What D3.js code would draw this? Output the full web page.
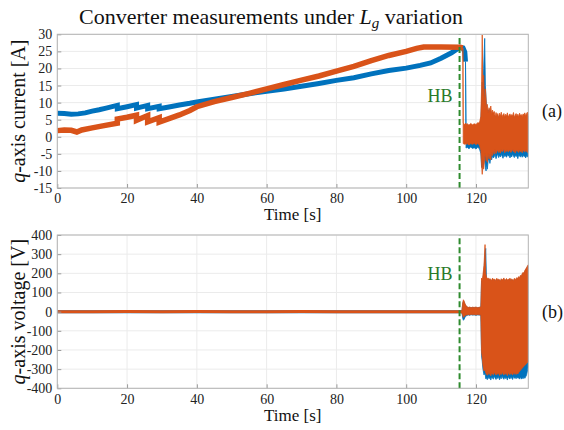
<!DOCTYPE html>
<html>
<head>
<meta charset="utf-8">
<script src="https://cdn.jsdelivr.net/npm/d3@7"></script>
<style>
  html, body { margin: 0; padding: 0; background: #fff; }
  svg { display: block; }
  svg text { font-family: 'Liberation Serif', 'Times New Roman', serif; }
</style>
</head>
<body>
<svg id="chart" width="564" height="430"></svg>
<script>
// ---- data -------------------------------------------------------------
const xTicks = [0, 20, 40, 60, 80, 100, 120];
const iqTicks = [-15, -10, -5, 0, 5, 10, 15, 20, 25, 30];
const vqTicks = [-400, -300, -200, -100, 0, 100, 200, 300, 400];
const hbTime = 115.3;

// q-axis current, smooth part before the bifurcation (time, value)
const iqBlueTime = [0, 2, 4, 6, 8, 10, 12, 14, 16, 17.2, 17.2, 20, 22.7, 22.7, 25.9, 25.9, 29.2, 29.2, 32, 35, 38, 40, 45, 50, 55, 60, 65, 70, 75, 80, 85, 90, 95, 100, 104, 107, 110, 113, 115.4, 116.3, 116.8, 117.0];
const iqBlue     = [6.9, 6.8, 6.6, 6.7, 7.0, 7.5, 7.9, 8.4, 8.9, 9.2, 8.2, 8.8, 9.4, 8.4, 9.2, 8.2, 8.9, 8.2, 8.7, 9.3, 9.8, 10.2, 11.0, 11.8, 12.6, 13.3, 14.0, 14.8, 15.6, 16.5, 17.3, 18.4, 19.4, 20.1, 20.9, 21.6, 23.0, 24.6, 26.2, 26.0, 24.8, 22.0];
const iqOrangeTime = [0, 2, 4, 5.6, 7, 10, 13, 17.2, 17.2, 20, 22.7, 22.7, 25.9, 25.9, 29.2, 29.2, 32, 35, 38, 40, 45, 50, 55, 60, 65, 70, 75, 80, 85, 90, 95, 100, 103, 105, 110, 115.4, 116.2];
const iqOrange     = [1.8, 2.0, 1.9, 1.4, 2.0, 2.6, 3.2, 4.0, 5.2, 5.7, 6.3, 4.8, 6.2, 4.4, 5.6, 4.3, 5.3, 6.4, 7.7, 8.8, 10.3, 11.5, 12.7, 14.0, 15.3, 16.6, 17.8, 19.2, 20.6, 22.3, 23.8, 25.0, 25.9, 26.3, 26.3, 26.2, 26.0];

// q-axis current after the bifurcation: oscillation envelopes
const iqOscTime = [116.25, 116.35, 116.8, 117.0, 117.15, 117.5, 118, 118.5, 119, 119.5, 120, 120.5, 121, 121.4, 121.6, 121.8, 122.0, 122.2, 122.5, 122.7, 122.9,
  123.0, 123.25, 123.5, 123.75, 124.0, 124.25, 124.5, 124.75, 125.0, 125.25, 125.5, 125.75, 126.0, 126.25, 126.5, 126.75, 127.0, 127.25, 127.5, 127.75,
  128.0, 128.25, 128.5, 128.75, 129.0, 129.25, 129.5, 129.75, 130.0, 130.25, 130.5, 130.75, 131.0, 131.25, 131.5, 131.75, 132.0, 132.25, 132.5, 132.75,
  133.0, 133.25, 133.5, 133.75, 134.0, 134.25, 134.5, 134.75, 135.0];
const iqOrangeHi = [26, 4, 3.5, 4, 3.6, 3.8, 3.4, 3.9, 3.5, 3.8, 3.6, 4.1, 4.0, 6, 14, 29.8, 12, 18, 9, 14, 11,
  8, 9.5, 7, 8.5, 7.5, 9, 6.5, 7.8, 6.9, 7.4, 5.8, 7.1, 6.2, 6.8, 5.6, 6.9, 6.1, 7.2, 5.9, 6.4, 6.8, 5.7, 6.6, 6.0, 7.0, 5.8, 6.3, 6.7, 5.9, 6.5,
  6.1, 7.1, 5.6, 6.4, 6.8, 6.0, 6.6, 5.8, 6.9, 6.2, 6.5, 5.9, 6.7, 6.3, 7.0, 6.1, 6.8, 7.2, 6.6];
const iqOrangeLo = [25.2, -2, -2.2, -1.8, -2.3, -2, -2.4, -2, -2.2, -1.9, -2.3, -2, -2.4, -4, -8, -11, -7, -9.5, -6, -5, -7,
  -6, -7.5, -5, -6.5, -5.2, -6.8, -4.6, -5.5, -4.2, -5.1, -3.8, -4.9, -4.3, -3.9, -4.6, -4.0, -4.8, -3.7, -4.4, -4.1, -3.6, -4.7, -4.0, -4.3, -3.8, -4.5,
  -4.1, -3.9, -4.6, -4.2, -3.7, -4.4, -4.0, -4.8, -3.9, -4.3, -4.1, -4.6, -3.8, -4.4, -4.0, -4.7, -3.9, -4.2, -4.5, -3.8, -4.3, -4.6, -4.1];
const iqBlueHi = [null, null, null, 22, 3.2, 3.3, 3.1, 3.4, 3.0, 3.2, 3.1, 3.5, 3.6, 5, 10, 16, 12, 20, 28.8, 15, 11,
  9, 8, 7.5, 8, 6.5, 7.5, 6, 6.8, 5.9, 6.3, 5.5, 6.1, 5.7, 6.0, 5.4, 6.2, 5.6, 5.9, 5.3, 5.8, 6.0, 5.5, 5.9, 5.4, 6.1, 5.6, 5.8, 5.5, 6.0, 5.7,
  5.4, 6.2, 5.6, 5.9, 5.5, 5.8, 6.0, 5.4, 5.9, 5.6, 6.1, 5.5, 5.8, 5.7, 6.0, 5.6, 5.9, 6.3, 6.0];
const iqBlueLo = [null, null, null, 21, -3.3, -3.1, -3.5, -3.0, -3.4, -3.2, -3.6, -3.1, -3.5, -5, -9, -7, -9, -8, -6, -9, -10,
  -8, -9.5, -7, -6.5, -7.8, -6, -6.8, -5.5, -6.2, -5.8, -5.2, -6.4, -5.6, -5.0, -6.1, -5.4, -5.9, -5.1, -5.7, -6.3, -5.2, -5.8, -5.5, -6.0, -5.1, -5.7,
  -5.3, -6.2, -5.4, -5.9, -5.0, -5.6, -6.1, -5.3, -5.8, -5.5, -6.4, -5.2, -5.7, -5.9, -5.3, -6.0, -5.4, -5.8, -5.6, -6.2, -5.5, -5.9, -5.7];

// q-axis voltage before the bifurcation
const vqTime   = [0, 10, 20, 30, 40, 50, 60, 70, 80, 90, 100, 110, 116];
const vqBlue   = [-1, -1, 0, -1, 0, 0, -1, 0, 0, 0, 0, 0, 0];
const vqOrange = [-1, -1, 1, 0, 1, 0, 0, 1, 0, 0, 0, 0, 0];

// q-axis voltage after the bifurcation: oscillation envelopes
const vqOscTime = [116.0, 116.2, 116.4, 116.6, 116.9, 117.2, 117.5, 117.8, 118.2, 118.6, 119, 119.5, 120, 120.5, 121, 121.4, 121.6, 121.8, 122.0, 122.3, 122.6, 122.8,
  123.0, 123.25, 123.5, 123.75, 124.0, 124.25, 124.5, 124.75, 125.0, 125.25, 125.5, 125.75, 126.0, 126.25, 126.5, 126.75, 127.0, 127.25, 127.5, 127.75,
  128.0, 128.25, 128.5, 128.75, 129.0, 129.25, 129.5, 129.75, 130.0, 130.25, 130.5, 130.75, 131.0, 131.25, 131.5, 131.75, 132.0, 132.25, 132.5, 132.75,
  133.0, 133.25, 133.5, 133.75, 134.0, 134.25, 134.5, 134.75, 135.0];
const vqOrangeHi = [8, 45, 62, 55, 40, 30, 25, 22, 24, 21, 23, 22, 24, 21, 23, 25, 175, 160, 190, 240, 350, 200,
  182, 170, 176, 165, 173, 168, 162, 175, 166, 171, 160, 169, 174, 163, 170, 167, 158, 172, 165, 169,
  176, 161, 168, 173, 164, 170, 166, 175, 160, 171, 167, 163, 174, 168, 172, 178, 170, 183, 176, 190,
  185, 198, 205, 200, 215, 222, 230, 238, 245];
const vqOrangeLo = [-8, -20, -30, -25, -20, -18, -17, -15, -17, -14, -16, -15, -17, -15, -16, -18, -210, -240, -280, -310, -300, -320,
  -325, -332, -318, -328, -322, -335, -320, -326, -330, -317, -324, -331, -321, -327, -319, -333, -323, -328, -316, -325,
  -330, -320, -327, -322, -334, -318, -326, -329, -321, -324, -331, -317, -326, -322, -328, -320, -325, -318, -312, -306,
  -300, -295, -290, -285, -280, -276, -270, -266, -262];
const vqBlueHi = [6, 40, 55, 50, 35, 28, 24, 20, 22, 20, 22, 21, 22, 20, 22, 23, 160, 150, 170, 220, 300, 330,
  175, 165, 170, 160, 168, 163, 158, 170, 161, 166, 156, 164, 169, 158, 165, 162, 154, 167, 160, 164,
  171, 156, 163, 168, 159, 165, 161, 170, 155, 166, 162, 158, 169, 163, 167, 173, 165, 178, 171, 185,
  180, 193, 200, 195, 210, 217, 225, 233, 240];
const vqBlueLo = [-7, -35, -45, -40, -28, -22, -19, -17, -19, -16, -18, -17, -19, -17, -18, -20, -230, -260, -300, -330, -320, -350,
  -345, -355, -338, -350, -342, -357, -340, -348, -352, -336, -346, -354, -341, -349, -339, -356, -344, -350, -335, -347,
  -353, -340, -349, -343, -357, -338, -348, -351, -342, -346, -354, -337, -348, -343, -350, -341, -347, -345, -352, -340,
  -352, -345, -350, -342, -348, -340, -330, -310, -285];

// ---- drawing ------------------------------------------------------------
const BLUE = "#0072bd", ORANGE = "#d95319", GREEN = "#2e8b2e";
const FONT = "'Liberation Serif', 'Times New Roman', serif";
const svg = d3.select("#chart");

const x = d3.scaleLinear().domain([0, 135]).range([57.3, 528.3]);

const panels = [
  { y: d3.scaleLinear().domain([-15, 30]).range([188, 34.3]), ticks: iqTicks,
    label: "current [A]", tag: "(a)", tagY: 117, hbY: 102, timeY: 220, tickY: 203 },
  { y: d3.scaleLinear().domain([-400, 400]).range([388.3, 235]), ticks: vqTicks,
    label: "voltage [V]", tag: "(b)", tagY: 318, hbY: 280, timeY: 421, tickY: 404 }
];

// title with italic L and subscript g
const title = svg.append("text").attr("x", 271).attr("y", 24)
  .attr("text-anchor", "middle").attr("font-family", FONT).attr("font-size", 22).attr("fill", "#111");
title.append("tspan").text("Converter measurements under ");
title.append("tspan").attr("font-style", "italic").text("L");
title.append("tspan").attr("font-style", "italic").attr("font-size", 15).attr("dy", 4).text("g");
title.append("tspan").attr("dy", -4).text(" variation");

panels.forEach((p, i) => {
  const g = svg.append("g").attr("font-family", FONT);
  const [y0, y1] = p.y.range();
  const clipId = "clip" + i;
  svg.append("clipPath").attr("id", clipId).append("rect")
    .attr("x", x.range()[0]).attr("y", y1).attr("width", x.range()[1] - x.range()[0]).attr("height", y0 - y1);

  // grid
  g.selectAll(".gx").data(xTicks).join("line")
    .attr("x1", d => x(d)).attr("x2", d => x(d)).attr("y1", y0).attr("y2", y1)
    .attr("stroke", "#ebebeb").attr("stroke-width", 1);
  g.selectAll(".gy").data(p.ticks).join("line")
    .attr("x1", x.range()[0]).attr("x2", x.range()[1]).attr("y1", d => p.y(d)).attr("y2", d => p.y(d))
    .attr("stroke", "#ebebeb").attr("stroke-width", 1);

  const plot = g.append("g").attr("clip-path", `url(#${clipId})`);
  const line = (ts, vs) => d3.line().x((d, k) => x(ts[k])).y(d => p.y(d))(vs);
  const band = (ts, hi, lo) => d3.area().defined((d, k) => hi[k] !== null)
    .x((d, k) => x(ts[k])).y0((d, k) => p.y(lo[k])).y1((d, k) => p.y(hi[k]))(ts);

  if (i === 0) {
    plot.append("path").attr("d", line(iqBlueTime, iqBlue)).attr("fill", "none")
      .attr("stroke", BLUE).attr("stroke-width", 5);
    plot.append("path").attr("d", band(iqOscTime, iqBlueHi, iqBlueLo)).attr("fill", BLUE)
      .attr("stroke", BLUE).attr("stroke-width", 0.8);
    plot.append("path").attr("d", line(iqOrangeTime, iqOrange)).attr("fill", "none")
      .attr("stroke", ORANGE).attr("stroke-width", 5.5);
    plot.append("path").attr("d", band(iqOscTime, iqOrangeHi, iqOrangeLo)).attr("fill", ORANGE)
      .attr("stroke", ORANGE).attr("stroke-width", 0.8);
  } else {
    plot.append("path").attr("d", line(vqTime, vqBlue)).attr("fill", "none")
      .attr("stroke", BLUE).attr("stroke-width", 3);
    plot.append("path").attr("d", band(vqOscTime, vqBlueHi, vqBlueLo)).attr("fill", BLUE)
      .attr("stroke", BLUE).attr("stroke-width", 0.8);
    plot.append("path").attr("d", line(vqTime, vqOrange)).attr("fill", "none")
      .attr("stroke", ORANGE).attr("stroke-width", 3);
    plot.append("path").attr("d", band(vqOscTime, vqOrangeHi, vqOrangeLo)).attr("fill", ORANGE)
      .attr("stroke", ORANGE).attr("stroke-width", 0.8);
  }

  // HB marker
  g.append("line").attr("x1", x(hbTime)).attr("x2", x(hbTime)).attr("y1", y0).attr("y2", y1)
    .attr("stroke", GREEN).attr("stroke-width", 2).attr("stroke-dasharray", "6,3");
  g.append("text").attr("x", x(hbTime) - 7).attr("y", p.hbY).attr("text-anchor", "end")
    .attr("font-family", FONT).attr("font-size", 18).attr("fill", "#2a7a2a").text("HB");

  // axes (inward ticks)
  const axB = g.append("g").attr("transform", `translate(0,${y0})`)
    .call(d3.axisBottom(x).tickValues(xTicks).tickSize(-4).tickPadding(9).tickFormat(d => String(d)));
  const axL = g.append("g").attr("transform", `translate(${x.range()[0]},0)`)
    .call(d3.axisLeft(p.y).tickValues(p.ticks).tickSize(-4).tickPadding(5).tickFormat(d => String(d)));
  [axB, axL].forEach(a => {
    a.attr("font-family", FONT);
    a.select(".domain").remove();
    a.selectAll(".tick line").attr("stroke", "#9a9a9a");
    a.selectAll("text").attr("font-family", FONT).attr("font-size", 14).attr("fill", "#222");
  });
  axB.selectAll("text").attr("dy", null).attr("y", p.tickY - y0);

  // frame
  g.append("rect").attr("x", x.range()[0]).attr("y", y1)
    .attr("width", x.range()[1] - x.range()[0]).attr("height", y0 - y1)
    .attr("fill", "none").attr("stroke", "#b3b3b3").attr("stroke-width", 1);

  // labels
  g.append("text").attr("x", (x.range()[0] + x.range()[1]) / 2).attr("y", p.timeY)
    .attr("text-anchor", "middle").attr("font-family", FONT).attr("font-size", 17).attr("fill", "#111").text("Time [s]");
  const yl = g.append("text").attr("transform", `translate(25,${(y0 + y1) / 2}) rotate(-90)`)
    .attr("text-anchor", "middle").attr("font-family", FONT).attr("font-size", 20).attr("fill", "#111");
  yl.append("tspan").attr("font-style", "italic").text("q");
  yl.append("tspan").text("-axis " + p.label);
  g.append("text").attr("x", 542).attr("y", p.tagY).attr("font-family", FONT)
    .attr("font-size", 18).attr("fill", "#111").text(p.tag);
});
</script>
</body>
</html>
